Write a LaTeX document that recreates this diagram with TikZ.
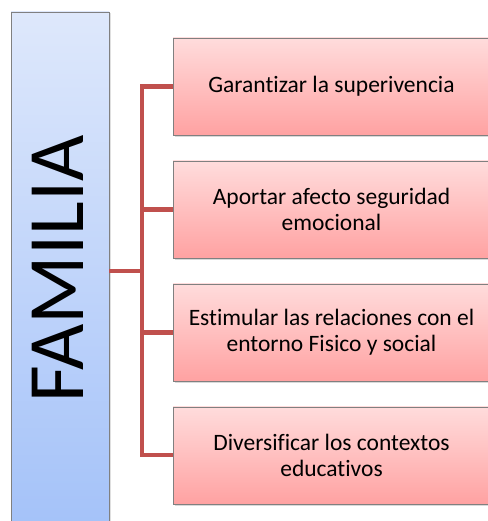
\documentclass[tikz,border=0pt]{standalone}
\usepackage{fontspec}
\setmainfont{Carlito}[Ligatures=NoCommon]
\usetikzlibrary{positioning, shadows}
\definecolor{famtop}{RGB}{222,232,251}
\definecolor{fambot}{RGB}{164,194,249}
\definecolor{tasktop}{RGB}{255,220,220}
\definecolor{taskbot}{RGB}{255,162,162}
\definecolor{linkred}{RGB}{192,80,77}
\definecolor{boxedge}{RGB}{128,128,128}

\begin{document}
\begin{tikzpicture}[
    x=1pt, y=-1pt,
    % --- 全域樣式設定 ---
    family box/.style={draw=boxedge, rectangle, minimum width=98pt, minimum height=518pt,
        top color=famtop, bottom color=fambot,
        drop shadow={opacity=0.25, shadow xshift=1.5pt, shadow yshift=-1.5pt}},
    % 右側的粉紅方框
    task box/.style={draw=boxedge, rectangle, minimum width=317pt, minimum height=97pt,
        top color=tasktop, bottom color=taskbot, align=center,
        font=\fontsize{23.5}{25.5}\selectfont,
        drop shadow={opacity=0.3, shadow xshift=1.5pt, shadow yshift=-2pt}},
    % 紅色連線
    link/.style={draw=linkred, line width=4.5pt}
]

    \useasboundingbox (0,0) rectangle (487,521);

    % --- 1. 左側的方框 (FAMILIA) ---
    \node[family box] (familia) at (60,271) {};
    \node[rotate=90, font=\fontsize{80}{84}\selectfont] (familia_text) at (58,269) {FAMILIA};

    % --- 2. 右側的四個方框 ---
    \node[task box] (b1) at (331.5,86.5) {Garantizar la superivencia};
    \node[task box, below=25.5pt of b1] (b2) {Aportar afecto seguridad\\emocional};
    \node[task box, below=25.5pt of b2] (b3) {Estimular las relaciones con el\\entorno Fisico y social};
    \node[task box, below=25.5pt of b3] (b4) {Diversificar los contextos\\educativos};

    % --- 3. 連線 ---
    % 分岔點:X 軸在兩者之間
    \coordinate (hub) at (142,271);
    \draw[link] (familia.east |- hub) -- (hub);
    \draw[link] (b1.west) -- (b1.west -| hub) -- (b4.west -| hub) -- (b4.west);
    \draw[link] (b2.west) -- (b2.west -| hub);
    \draw[link] (b3.west) -- (b3.west -| hub);

\end{tikzpicture}
\end{document}
